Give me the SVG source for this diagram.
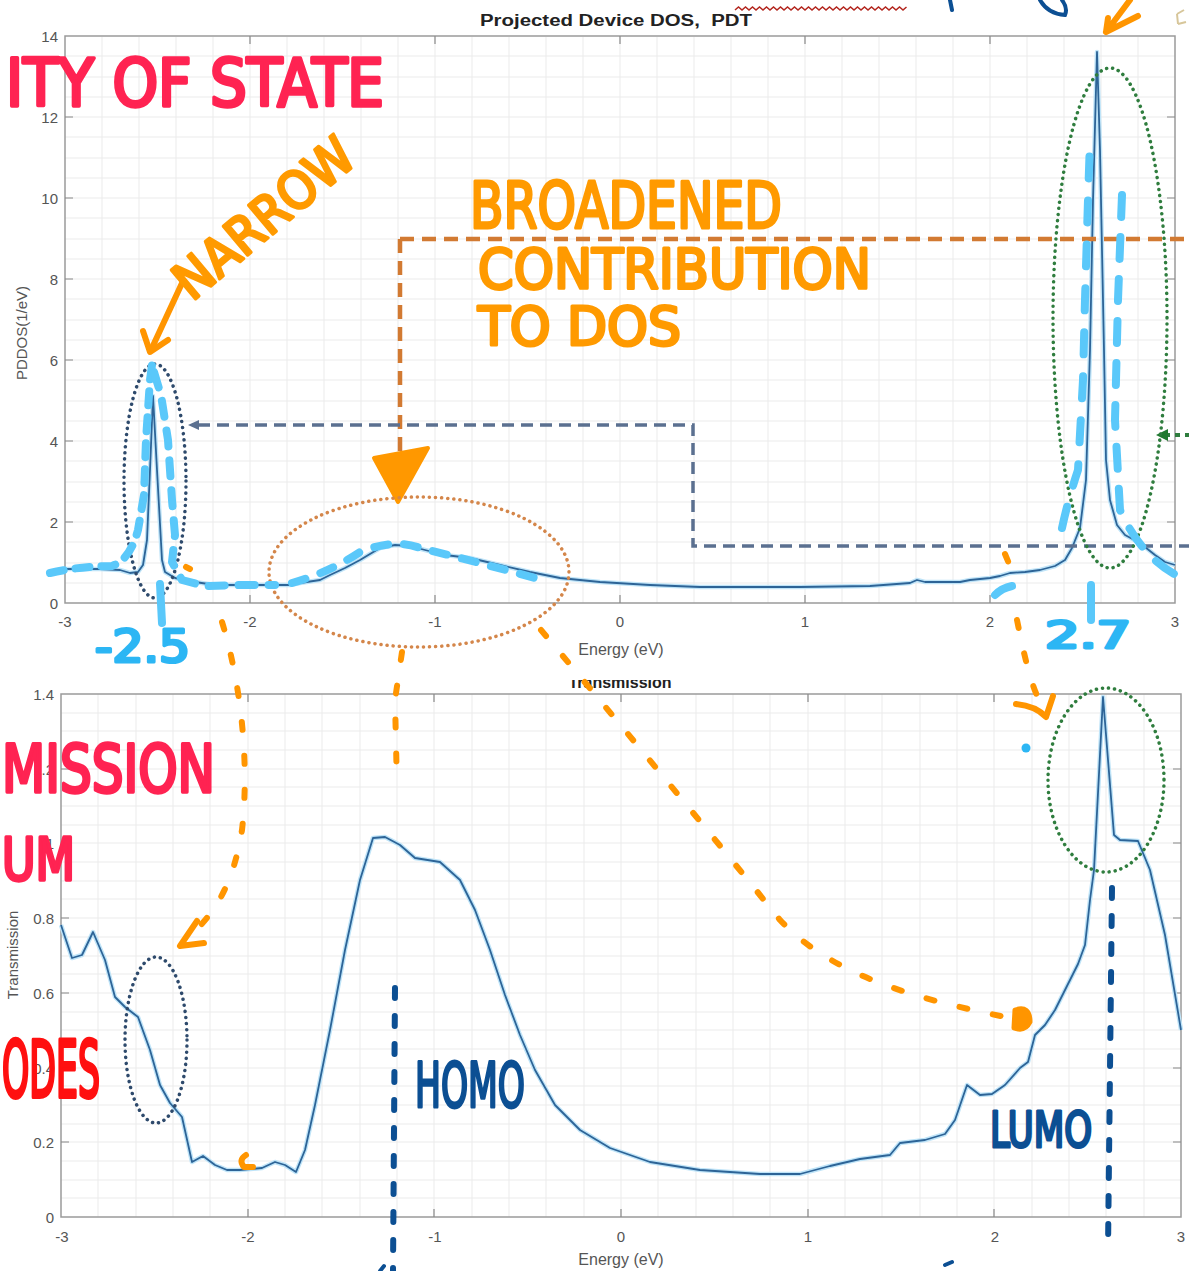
<svg xmlns="http://www.w3.org/2000/svg" width="1189" height="1271" viewBox="0 0 1189 1271">
  <defs>
    <style>
      .grid { stroke: #ebebeb; stroke-width: 1; fill: none; }
      .axis { stroke: #9a9a9a; stroke-width: 1.5; fill: none; }
      .tick { stroke: #8a8a8a; stroke-width: 1.2; }
      .tl { font-family: "Liberation Sans", Arial, sans-serif; font-size: 15px; fill: #555; }
      .ttl { font-family: "Liberation Sans", Arial, sans-serif; font-size: 16px; font-weight: bold; fill: #222; }
      .halo { stroke: #bfe4f8; stroke-width: 4.5; fill: none; stroke-linejoin: round; }
      .curve { stroke: #2d6497; stroke-width: 1.8; fill: none; stroke-linejoin: round; }
      .hand { font-family: "Liberation Sans Narrow", "DejaVu Sans Condensed", "Liberation Sans", sans-serif; font-weight: normal; stroke-linejoin: round; stroke-linecap: round; }
      .red { fill: #ff2352; stroke: #ff2352; stroke-width: 3.5; }
      .red2 { fill: #ff1010; stroke: #ff1010; stroke-width: 4; }
      .org { fill: #ff9a00; stroke: #ff9a00; stroke-width: 3; }
      .sky { fill: #2cb6f4; stroke: #2cb6f4; stroke-width: 3; }
      .navy { fill: #0c4f93; stroke: #0c4f93; stroke-width: 3; }
      .dotNavy { stroke: #2e4a6c; stroke-width: 3.5; fill: none; stroke-dasharray: 0.1 6; stroke-linecap: round; }
      .dotOrg { stroke: #d4864a; stroke-width: 3.5; fill: none; stroke-dasharray: 0.1 6; stroke-linecap: round; }
      .dotGreen { stroke: #2f7d3e; stroke-width: 3.5; fill: none; stroke-dasharray: 0.1 6; stroke-linecap: round; }
      .skyDash { stroke: #5ac8fa; stroke-width: 8; fill: none; stroke-linecap: round; stroke-linejoin: round; }
      .orgDot { stroke: #ff9500; stroke-width: 6; fill: none; stroke-linecap: round; stroke-dasharray: 8 26; }
      .orgPen { stroke: #ff9500; stroke-width: 6; fill: none; stroke-linecap: round; stroke-linejoin: round; }
      .navyDot { stroke: #0c4f93; stroke-width: 6; fill: none; stroke-linecap: round; stroke-dasharray: 10 18; }
    </style>
    <clipPath id="titleClip"><rect x="500" y="680" width="240" height="16"/></clipPath>
    <!-- plotted data traces (pixel coordinates) -->
    <path id="dos-line" d="M65,569 L100,569 L120,570 L130,573 L138,572 L143,565 L147,540 L150,470 L153,396 L157,470 L162,560 L165,572 L175,578 L195,582 L215,585 L250,585 L290,585 L300,583 L320,580 L330,575 L345,568 L360,560 L380,548 L395,545 L410,546 L425,550 L445,555 L470,558 L500,565 L530,572 L560,578 L600,582 L650,585 L700,587 L800,587 L870,586 L910,583 L917,580 L925,582 L960,582 L970,580 L990,578 L1000,576 L1010,573 L1025,572 L1040,570 L1055,566 L1065,560 L1072,548 L1080,528 L1086,480 L1090,350 L1093,200 L1097,52 L1100,150 L1104,350 L1106,460 L1110,500 L1117,525 L1125,535 L1140,543 L1155,555 L1165,562 L1175,565"/>
    <path id="trans-line" d="M61,925 L72,958 L82,955 L93,932 L105,960 L115,997 L125,1007 L138,1017 L150,1050 L160,1085 L170,1103 L182,1117 L192,1162 L203,1156 L215,1165 L227,1170 L240,1170 L262,1168 L275,1162 L285,1165 L296,1172 L305,1150 L315,1105 L330,1030 L345,950 L360,880 L373,838 L385,837 L400,845 L415,858 L440,862 L460,880 L475,910 L490,950 L505,995 L520,1035 L535,1070 L555,1105 L580,1130 L610,1148 L650,1162 L700,1170 L760,1174 L800,1174 L830,1166 L860,1159 L890,1155 L900,1143 L925,1140 L945,1134 L955,1120 L967,1085 L980,1095 L992,1094 L1005,1085 L1020,1068 L1028,1062 L1035,1035 L1045,1025 L1055,1010 L1065,990 L1078,964 L1085,945 L1090,900 L1094,870 L1103,697 L1114,835 L1120,840 L1138,841 L1150,870 L1165,935 L1181,1030"/>
  </defs>

  <rect width="1189" height="1271" fill="#ffffff"/>

  <!-- ===== Upper axes: projected device DOS ===== -->
  <g id="dos-axes">
    <path class="grid" d="M102,37V603M139,37V603M176,37V603M213,37V603M287,37V603M324,37V603M361,37V603M398,37V603M472,37V603M509,37V603M546,37V603M583,37V603M657,37V603M694,37V603M731,37V603M768,37V603M842,37V603M879,37V603M916,37V603M953,37V603M1027,37V603M1064,37V603M1101,37V603M1138,37V603M250,37V603M435,37V603M620,37V603M805,37V603M990,37V603"/>
    <path class="grid" d="M65,583H1175M65,563H1175M65,542H1175M65,522H1175M65,502H1175M65,482H1175M65,461H1175M65,441H1175M65,421H1175M65,401H1175M65,380H1175M65,360H1175M65,340H1175M65,320H1175M65,299H1175M65,279H1175M65,259H1175M65,239H1175M65,218H1175M65,198H1175M65,178H1175M65,158H1175M65,137H1175M65,117H1175M65,97H1175M65,77H1175M65,56H1175"/>
    <rect class="axis" x="65" y="36" width="1110" height="567"/>
    <path class="tick" d="M250,603v-8M435,603v-8M620,603v-8M805,603v-8M990,603v-8M250,36v8M435,36v8M620,36v8M805,36v8M990,36v8M65,522h8M65,441h8M65,360h8M65,279h8M65,198h8M65,117h8M1175,522h-8M1175,441h-8M1175,360h-8M1175,279h-8M1175,198h-8M1175,117h-8"/>
    <g class="tl" text-anchor="end">
      <text x="58" y="42">14</text><text x="58" y="123">12</text><text x="58" y="204">10</text>
      <text x="58" y="285">8</text><text x="58" y="366">6</text><text x="58" y="447">4</text>
      <text x="58" y="528">2</text><text x="58" y="609">0</text>
    </g>
    <g class="tl" text-anchor="middle">
      <text x="65" y="627">-3</text><text x="250" y="627">-2</text><text x="435" y="627">-1</text>
      <text x="620" y="627">0</text><text x="805" y="627">1</text><text x="990" y="627">2</text><text x="1175" y="627">3</text>
      <text x="621" y="655" font-size="16">Energy (eV)</text>
    </g>
    <text class="tl" transform="translate(27,333) rotate(-90)" text-anchor="middle">PDDOS(1/eV)</text>
    <text class="ttl" x="480" y="26" textLength="272" lengthAdjust="spacingAndGlyphs">Projected Device DOS,&#160; PDT</text>
    <path d="M735,10 l3.5,-3 l3.5,3 l3.5,-3 l3.5,3 l3.5,-3 l3.5,3 l3.5,-3 l3.5,3 l3.5,-3 l3.5,3 l3.5,-3 l3.5,3 l3.5,-3 l3.5,3 l3.5,-3 l3.5,3 l3.5,-3 l3.5,3 l3.5,-3 l3.5,3 l3.5,-3 l3.5,3 l3.5,-3 l3.5,3 l3.5,-3 l3.5,3 l3.5,-3 l3.5,3 l3.5,-3 l3.5,3 l3.5,-3 l3.5,3 l3.5,-3 l3.5,3 l3.5,-3 l3.5,3 l3.5,-3 l3.5,3 l3.5,-3 l3.5,3 l3.5,-3 l3.5,3 l3.5,-3 l3.5,3 l3.5,-3 l3.5,3 l3.5,-3 l3.5,3 l3.5,-3" stroke="#b3261e" stroke-width="1.5" fill="none"/>
    <use href="#dos-line" class="halo"/>
    <use href="#dos-line" class="curve"/>
  </g>

  <!-- ===== Lower axes: transmission ===== -->
  <g id="trans-axes">
    <path class="grid" d="M98,694V1217M136,694V1217M173,694V1217M210,694V1217M248,694V1217M285,694V1217M322,694V1217M360,694V1217M397,694V1217M434,694V1217M472,694V1217M509,694V1217M546,694V1217M584,694V1217M621,694V1217M658,694V1217M696,694V1217M733,694V1217M770,694V1217M808,694V1217M845,694V1217M882,694V1217M920,694V1217M957,694V1217M994,694V1217M1032,694V1217M1069,694V1217M1106,694V1217M1144,694V1217"/>
    <path class="grid" d="M61,1198H1181M61,1180H1181M61,1161H1181M61,1142H1181M61,1124H1181M61,1105H1181M61,1086H1181M61,1068H1181M61,1049H1181M61,1030H1181M61,1012H1181M61,993H1181M61,974H1181M61,956H1181M61,937H1181M61,918H1181M61,899H1181M61,881H1181M61,862H1181M61,843H1181M61,825H1181M61,806H1181M61,787H1181M61,769H1181M61,750H1181M61,731H1181M61,713H1181"/>
    <rect class="axis" x="61" y="694" width="1120" height="523"/>
    <path class="tick" d="M248,1217v-8M434,1217v-8M621,1217v-8M808,1217v-8M994,1217v-8M248,694v8M434,694v8M621,694v8M808,694v8M994,694v8M61,1142h8M61,1068h8M61,993h8M61,918h8M61,843h8M61,769h8M1181,1142h-8M1181,1068h-8M1181,993h-8M1181,918h-8M1181,843h-8M1181,769h-8"/>
    <g class="tl" text-anchor="end">
      <text x="54" y="1223">0</text><text x="54" y="1148">0.2</text><text x="54" y="1074">0.4</text>
      <text x="54" y="999">0.6</text><text x="54" y="924">0.8</text><text x="54" y="849">1</text>
      <text x="54" y="775">1.2</text><text x="54" y="700">1.4</text>
    </g>
    <g class="tl" text-anchor="middle">
      <text x="62" y="1242">-3</text><text x="248" y="1242">-2</text><text x="435" y="1242">-1</text>
      <text x="621" y="1242">0</text><text x="808" y="1242">1</text><text x="995" y="1242">2</text><text x="1181" y="1242">3</text>
      <text x="621" y="1265" font-size="16">Energy (eV)</text>
    </g>
    <text class="tl" font-size="14" transform="translate(18,955) rotate(-90)" text-anchor="middle">Transmission</text>
    <text class="ttl" x="620" y="688" text-anchor="middle" clip-path="url(#titleClip)">Transmission</text>
    <use href="#trans-line" class="halo"/>
    <use href="#trans-line" class="curve"/>
  </g>

  <!-- ===== Connectors: guide lines, circled regions, arrows ===== -->
  <g id="connectors">
    <!-- orange path from the upper plot down to the broad bump -->
    <path d="M400,239 H1189 M400,239 V458" stroke="#d27a32" stroke-width="4.5" fill="none" stroke-dasharray="14 8"/>
    <path d="M374,458 L428,448 L398,502 Z" fill="#ff9800" stroke="#ff9800" stroke-width="4" stroke-linejoin="round"/>
    <!-- slate dashed path to the narrow peak -->
    <path d="M198,425 H693 V546 H1189" stroke="#5b7090" stroke-width="3.5" fill="none" stroke-dasharray="12 7"/>
    <path d="M188,425 L199,420 L199,430 Z" fill="#5b7090"/>
    <!-- green arrow at the right edge -->
    <path d="M1165,435 H1189" stroke="#2f7d3e" stroke-width="4" stroke-dasharray="5 5"/>
    <path d="M1156,435 L1168,429 L1168,441 Z" fill="#1f7a2f"/>

    <!-- circled regions -->
    <ellipse class="dotNavy" cx="155" cy="481" rx="31" ry="117"/>
    <ellipse class="dotOrg" cx="419" cy="572" rx="150" ry="75"/>
    <ellipse class="dotGreen" cx="1110" cy="318" rx="57" ry="250"/>
    <ellipse class="dotNavy" cx="156" cy="1040" rx="31" ry="83"/>
    <ellipse class="dotGreen" cx="1106" cy="780" rx="58" ry="92"/>

    <!-- light blue hand tracing over the curves -->
    <path class="skyDash" stroke-dasharray="14 12" d="M50,573 Q80,566 112,566 Q130,560 138,530 L144,495 L146,440 L150,380 L152,365"/>
    <path class="skyDash" stroke-dasharray="16 14" d="M154,372 L161,395 L168,440 L172,500 L175,535 L172,562 L182,580 L205,586 L240,585 L275,585"/>
    <path class="skyDash" stroke-dasharray="14 16" d="M292,583 Q330,572 360,552 Q395,538 420,548 Q470,560 535,578"/>
    <path class="skyDash" stroke-dasharray="22 22" d="M1062,528 Q1068,500 1078,470 L1083,380 L1085,300 L1088,200 L1090,140"/>
    <path class="skyDash" stroke-dasharray="22 20" d="M1122,195 L1118,300 L1115,420 L1120,510 Q1140,555 1176,575"/>
    <path class="skyDash" d="M995,595 Q1002,588 1012,586"/>
    <path class="skyDash" d="M160,584 L162,623"/>
    <path class="skyDash" d="M1091,585 L1091,620"/>
    <circle cx="1026" cy="748" r="4.5" fill="#2cb6f4"/>

    <!-- orange narrow-peak pointer -->
    <path class="orgPen" d="M183,281 L151,350"/>
    <path class="orgPen" d="M143,331 L150,352 L168,340"/>
    <!-- orange dotted pointers between the two plots -->
    <path class="orgDot" d="M186,567 L190,569 M222,622 C240,680 250,760 242,830 C234,880 218,908 196,930"/>
    <path class="orgPen" d="M197,921 L180,946 L204,943"/>
    <path class="orgDot" d="M402,652 L395,700 L397,787"/>
    <path class="orgDot" stroke-dasharray="9 30" d="M541,630 C600,700 700,820 780,920 C840,985 950,1005 1010,1018"/>
    <path d="M1015,1010 Q1030,1005 1030,1022 Q1025,1032 1014,1028 Z" fill="#ff9500" stroke="#ff9500" stroke-width="5" stroke-linejoin="round"/>
    <path class="orgDot" stroke-dasharray="8 30" d="M1005,554 L1010,566 M1017,620 C1024,655 1030,680 1038,698"/>
    <path class="orgPen" d="M1016,704 Q1036,706 1046,717 L1053,696"/>
    <path class="orgPen" d="M246,1155 Q238,1160 244,1167 L253,1167"/>

    <!-- navy dotted level markers -->
    <path class="navyDot" d="M395,988 L393,1271"/>
    <path class="navyDot" d="M1112,888 L1108,1250"/>

    <!-- strokes running off the edges -->
    <path d="M950,0 L952,10" stroke="#0c4f93" stroke-width="4" stroke-linecap="round"/>
    <path d="M1040,0 Q1048,14 1065,15 Q1068,8 1062,0" stroke="#0c4f93" stroke-width="4" fill="none" stroke-linecap="round"/>
    <path class="orgPen" d="M1130,0 L1106,32 M1106,32 L1108,18 M1106,32 L1138,16"/>
    <path d="M1177,14 L1184,10 M1177,14 L1178,24 M1178,24 L1186,22" stroke="#d7c69a" stroke-width="2" fill="none"/>
    <path d="M380,1271 L384,1266 M945,1265 L952,1262" stroke="#0c4f93" stroke-width="4" stroke-linecap="round"/>
  </g>

  <!-- ===== Handwritten labels ===== -->
  <g id="label-density">
    <text class="hand red" x="6" y="106" font-size="66" textLength="378" lengthAdjust="spacingAndGlyphs">ITY OF STATE</text>
  </g>
  <g id="label-narrow">
    <text class="hand org" transform="translate(192,302) rotate(-40)" font-size="52" textLength="218" lengthAdjust="spacingAndGlyphs">NARROW</text>
  </g>
  <g id="label-broadened">
    <text class="hand org" x="470" y="228" font-size="64" textLength="312" lengthAdjust="spacingAndGlyphs">BROADENED</text>
    <text class="hand org" x="478" y="288" font-size="56" textLength="393" lengthAdjust="spacingAndGlyphs">CONTRIBUTION</text>
    <text class="hand org" x="478" y="345" font-size="54" textLength="203" lengthAdjust="spacingAndGlyphs">TO DOS</text>
  </g>
  <g id="label-minus25">
    <text class="hand sky" x="95" y="662" font-size="44" textLength="95" lengthAdjust="spacingAndGlyphs">-2.5</text>
  </g>
  <g id="label-27">
    <text class="hand sky" x="1045" y="648" font-size="38" textLength="86" lengthAdjust="spacingAndGlyphs">2.7</text>
  </g>
  <g id="label-transmission">
    <text class="hand red" x="2" y="792" font-size="66" textLength="213" lengthAdjust="spacingAndGlyphs">MISSION</text>
    <text class="hand red" x="2" y="880" font-size="58" textLength="73" lengthAdjust="spacingAndGlyphs">UM</text>
  </g>
  <g id="label-modes">
    <text class="hand red2" x="2" y="1097" font-size="78" textLength="98" lengthAdjust="spacingAndGlyphs">ODES</text>
  </g>
  <g id="label-homo">
    <text class="hand navy" x="415" y="1107" font-size="62" textLength="110" lengthAdjust="spacingAndGlyphs">HOMO</text>
  </g>
  <g id="label-lumo">
    <text class="hand navy" x="990" y="1147" font-size="50" textLength="102" lengthAdjust="spacingAndGlyphs">LUMO</text>
  </g>
</svg>
